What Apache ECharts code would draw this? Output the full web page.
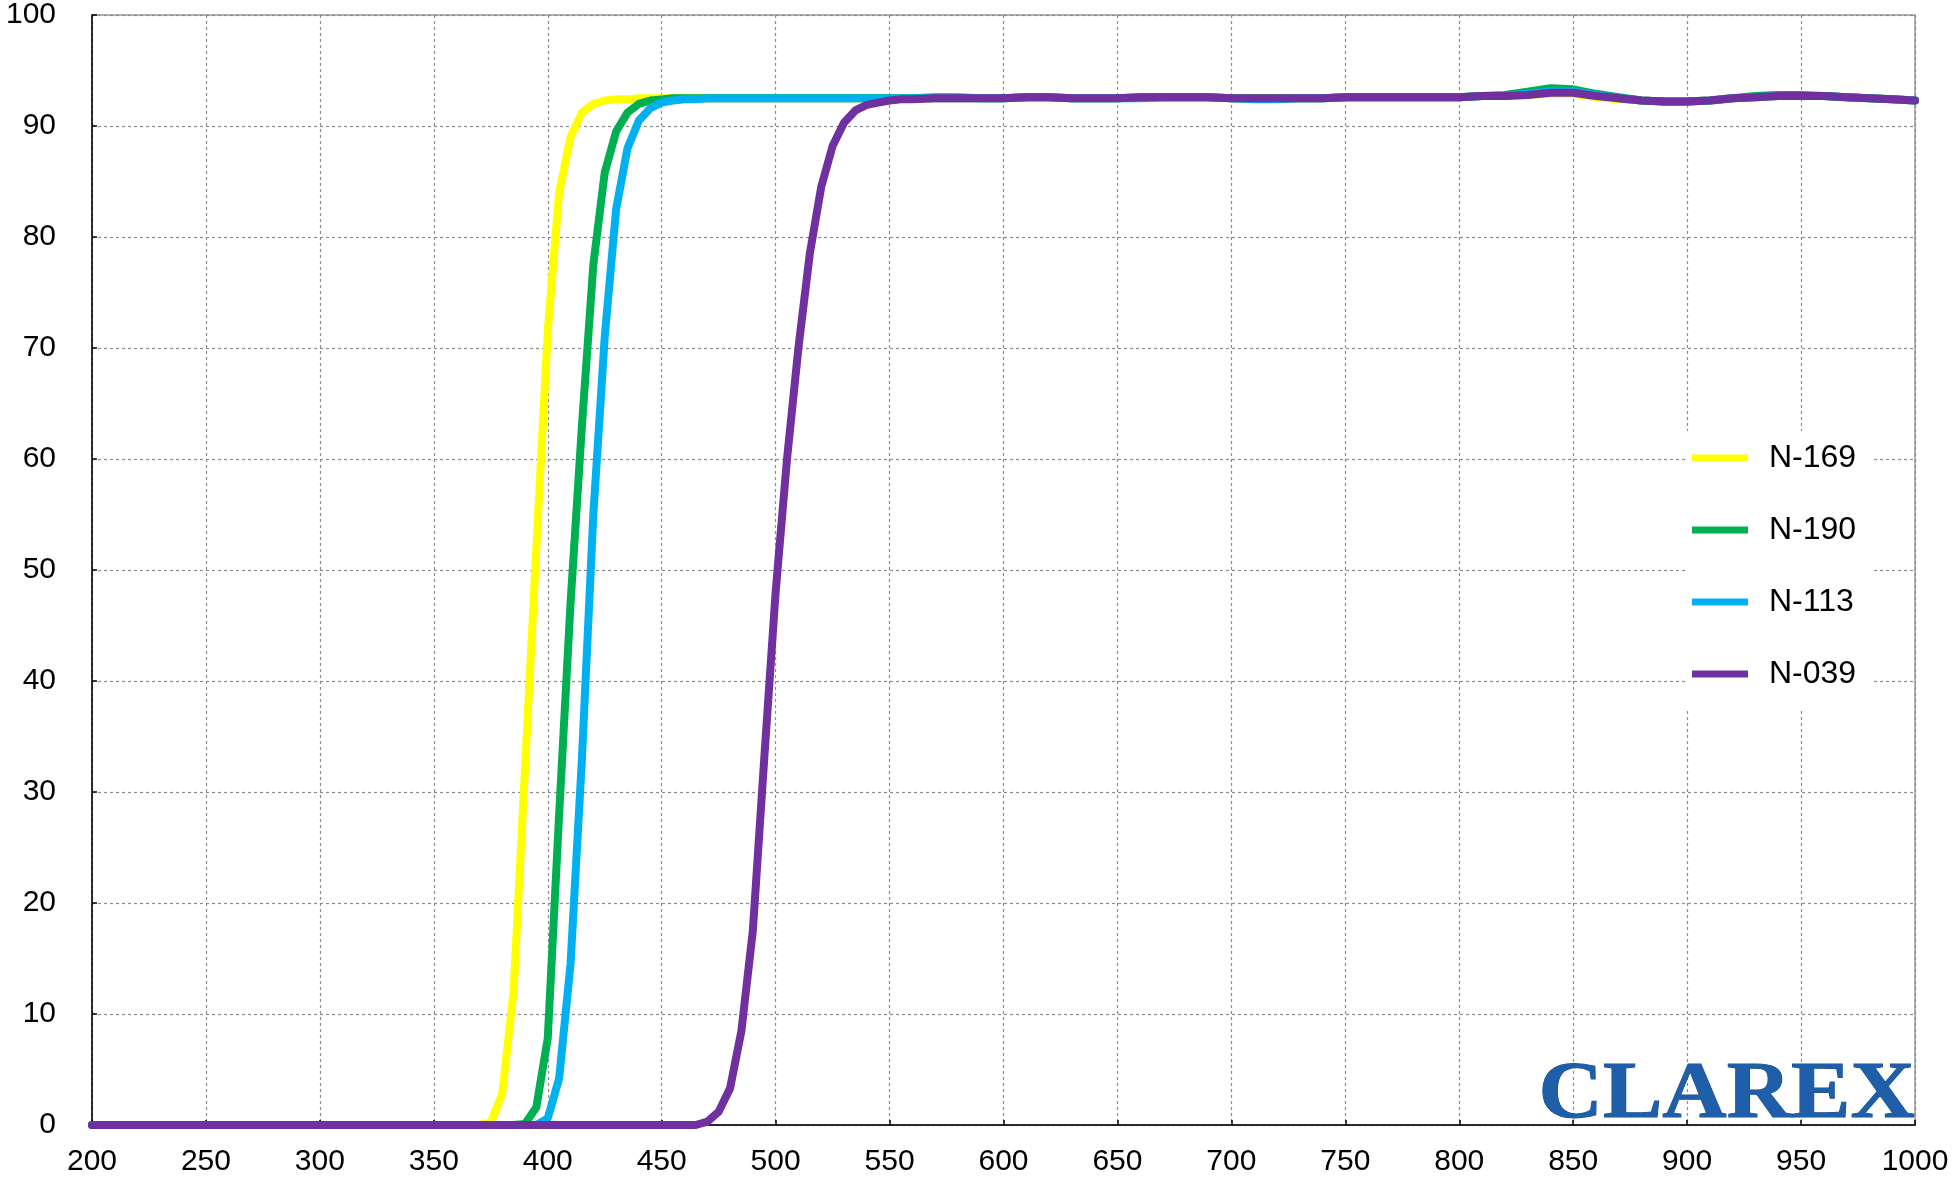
<!DOCTYPE html>
<html>
<head>
<meta charset="utf-8">
<script src="https://cdn.jsdelivr.net/npm/echarts@6/dist/echarts.min.js"></script>
<style>
html,body{margin:0;padding:0;background:#fff;}
#chart{width:1954px;height:1182px;}
</style>
</head>
<body>
<div id="chart"></div>
<script>
// Wavelength (nm)
var wavelengths = [200,250,300,350,360,365,370,375,380,385,390,395,400,405,410,415,420,425,430,435,440,445,450,455,460,465,470,475,480,485,490,495,500,505,510,515,520,525,530,535,540,545,550,555,560,
  570,580,590,600,610,620,630,640,650,660,670,680,690,700,710,720,730,740,750,760,770,780,790,800,810,820,830,840,850,860,870,880,890,900,910,920,930,940,950,960,970,980,990,1000];

var seriesNames = ["N-169","N-190","N-113","N-039"];

var n169 = [0,0,0,0,0,0,0,0.2,2.8,12,32,52,71.5,84,89,91.2,92,92.3,92.4,92.4,92.5,92.5,92.5,92.5,92.5,92.5,92.5,92.5,92.5,92.5,92.5,92.5,92.5,92.5,92.5,92.5,92.5,92.5,92.5,92.5,92.5,92.5,92.5,92.5,92.5,
  92.5,92.5,92.5,92.5,92.6,92.6,92.5,92.5,92.5,92.6,92.6,92.6,92.6,92.5,92.5,92.5,92.5,92.5,92.6,92.6,92.6,92.6,92.6,92.6,92.7,92.7,92.8,92.9,92.9,92.6,92.4,92.3,92.2,92.2,92.3,92.5,92.6,92.7,92.7,92.7,92.6,92.5,92.4,92.3];

var n190 = [0,0,0,0,0,0,0,0,0,0,0.1,1.6,7.8,28,47,63,77.5,85.8,89.5,91.2,92,92.3,92.4,92.5,92.5,92.5,92.5,92.5,92.5,92.5,92.5,92.5,92.5,92.5,92.5,92.5,92.5,92.5,92.5,92.5,92.5,92.5,92.5,92.5,92.5,
  92.6,92.6,92.5,92.5,92.6,92.6,92.5,92.5,92.5,92.6,92.6,92.6,92.6,92.5,92.5,92.5,92.5,92.5,92.6,92.6,92.6,92.6,92.6,92.6,92.7,92.8,93.1,93.4,93.3,92.9,92.6,92.3,92.2,92.2,92.3,92.5,92.7,92.8,92.8,92.7,92.6,92.5,92.4,92.3];

var n113 = [0,0,0,0,0,0,0,0,0,0,0,0,0.6,4.2,14.5,33,55,71,82.5,88,90.5,91.6,92.1,92.3,92.4,92.4,92.5,92.5,92.5,92.5,92.5,92.5,92.5,92.5,92.5,92.5,92.5,92.5,92.5,92.5,92.5,92.5,92.5,92.5,92.5,
  92.5,92.5,92.5,92.5,92.6,92.6,92.5,92.5,92.5,92.5,92.6,92.6,92.6,92.5,92.4,92.4,92.5,92.5,92.6,92.6,92.6,92.6,92.6,92.6,92.7,92.7,92.9,93.1,93.1,92.8,92.5,92.3,92.2,92.2,92.3,92.5,92.6,92.7,92.7,92.7,92.6,92.5,92.4,92.3];

var n039 = [0,0,0,0,0,0,0,0,0,0,0,0,0,0,0,0,0,0,0,0,0,0,0,0,0,0,0.3,1.2,3.3,8.5,17.5,33,48,60,70,78.5,84.5,88.2,90.3,91.4,91.9,92.1,92.3,92.4,92.4,
  92.5,92.5,92.5,92.5,92.6,92.6,92.5,92.5,92.5,92.6,92.6,92.6,92.6,92.5,92.5,92.5,92.5,92.5,92.6,92.6,92.6,92.6,92.6,92.6,92.7,92.7,92.8,93.0,93.0,92.7,92.5,92.3,92.2,92.2,92.3,92.5,92.6,92.7,92.7,92.7,92.6,92.5,92.4,92.3];

var seriesColors = ["#FFFF00","#00B050","#00B0F0","#7030A0"];
var seriesValues = [n169,n190,n113,n039];

function pairs(vals){
  var out = [];
  for (var i = 0; i < wavelengths.length; i++) out.push([wavelengths[i], vals[i]]);
  return out;
}

var FONT = "'Liberation Sans', Arial, sans-serif";
var chart = echarts.init(document.getElementById('chart'), null, {renderer:'canvas'});

var series = seriesNames.map(function(name, i){
  return {
    name: name,
    type: 'line',
    data: pairs(seriesValues[i]),
    showSymbol: false,
    symbol: 'none',
    smooth: false,
    lineStyle: {color: seriesColors[i], width: 8, join: 'round', cap: 'round'},
    itemStyle: {color: seriesColors[i]},
    emphasis: {disabled: true},
    z: 2 + i
  };
});

chart.setOption({
  animation: false,
  backgroundColor: '#ffffff',
  grid: {left: 92, right: 39, top: 15, bottom: 57, show: true, borderColor: '#999999', borderWidth: 1.5, backgroundColor: 'transparent'},
  legend: {
    data: seriesNames,
    orient: 'vertical',
    left: 1685,
    top: 431,
    backgroundColor: '#ffffff',
    padding: [11, 16, 20, 7],
    itemWidth: 56,
    itemHeight: 7,
    itemGap: 40,
    icon: 'rect',
    textStyle: {fontFamily: FONT, fontSize: 32, color: '#000', padding: [0,0,0,16]}
  },
  xAxis: {
    type: 'value',
    min: 200, max: 1000, interval: 50,
    axisLine: {show: true, onZero: false, lineStyle: {color: '#000', width: 1.5}},
    axisTick: {show: true, inside: true, length: 5, lineStyle: {color: '#000', width: 1.5}},
    axisLabel: {fontFamily: FONT, fontSize: 30, color: '#000', margin: 22, formatter: function(v){ return String(v); }},
    splitLine: {show: true, lineStyle: {color: '#8c8c8c', width: 1.2, type: [3,3]}}
  },
  yAxis: {
    type: 'value',
    min: 0, max: 100, interval: 10,
    axisLine: {show: true, lineStyle: {color: '#000', width: 1.5}},
    axisTick: {show: true, inside: true, length: 5, lineStyle: {color: '#000', width: 1.5}},
    axisLabel: {fontFamily: FONT, fontSize: 30, color: '#000', margin: 36, formatter: function(v){ return String(v); }},
    splitLine: {show: true, lineStyle: {color: '#8c8c8c', width: 1.2, type: [3,3]}}
  },
  graphic: [{
    type: 'text',
    left: 1538,
    top: 1055,
    z: 10,
    scaleX: 1.10,
    style: {
      text: 'CLAREX',
      font: 'bold 81px "Liberation Serif", "Times New Roman", serif',
      fill: '#1f5ea8',
      stroke: '#174c8c',
      lineWidth: 1
    }
  }],
  series: series
});
</script>
</body>
</html>
